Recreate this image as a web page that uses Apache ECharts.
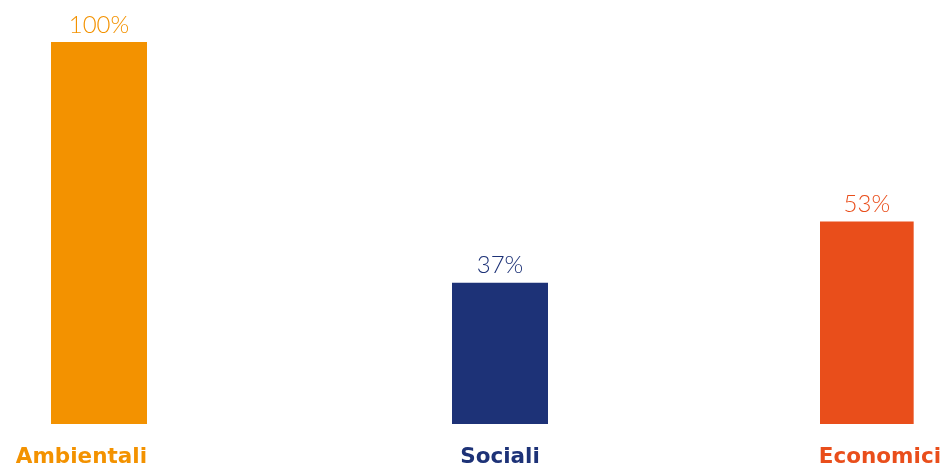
<!DOCTYPE html>
<html>
<head>
<meta charset="utf-8">
<script src="https://cdn.jsdelivr.net/npm/echarts@6/dist/echarts.min.js"></script>
<style>
  html, body { margin: 0; padding: 0; background: #ffffff; }
  #chart { width: 944px; height: 468px; }
</style>
</head>
<body>
<div id="chart"></div>
<script>
// Share of indicators per dimension (%)
const categories = ['Ambientali', 'Sociali', 'Economici'];
const values = [100, 37, 53];

// Presentation
const colors = ['#F39200', '#1D3277', '#E94E1B'];
const barLefts = [51, 452, 820];
const barWidth = 96;
const labelAlign = ['right', 'center', 'left'];

const chart = echarts.init(document.getElementById('chart'), null, { renderer: 'canvas' });

const grid = [], xAxis = [], yAxis = [], series = [];
categories.forEach((cat, i) => {
  grid.push({ left: barLefts[i], width: barWidth, top: 42, bottom: 43, containLabel: false });
  xAxis.push({
    type: 'category',
    gridIndex: i,
    data: [cat],
    axisLine: { show: false },
    axisTick: { show: false },
    axisLabel: {
      margin: 22,
      formatter: '{n|{value}}',
      rich: {
        n: {
          width: barWidth,
          align: labelAlign[i],
          color: colors[i],
          fontFamily: '"DejaVu Sans", sans-serif',
          fontWeight: 'bold',
          fontSize: 21.5
        }
      }
    }
  });
  yAxis.push({ type: 'value', gridIndex: i, min: 0, max: 100, show: false, splitLine: { show: false } });
  series.push({
    type: 'bar',
    xAxisIndex: i,
    yAxisIndex: i,
    data: [values[i]],
    barWidth: '100%',
    itemStyle: { color: colors[i] },
    label: {
      show: true,
      position: 'top',
      distance: 5,
      formatter: '{c}%',
      color: colors[i],
      fontFamily: 'Lato, "Noto Sans", sans-serif',
      fontWeight: 300,
      fontSize: 24
    },
    silent: true,
    animation: false
  });
});

chart.setOption({ animation: false, grid, xAxis, yAxis, series });
</script>
</body>
</html>
